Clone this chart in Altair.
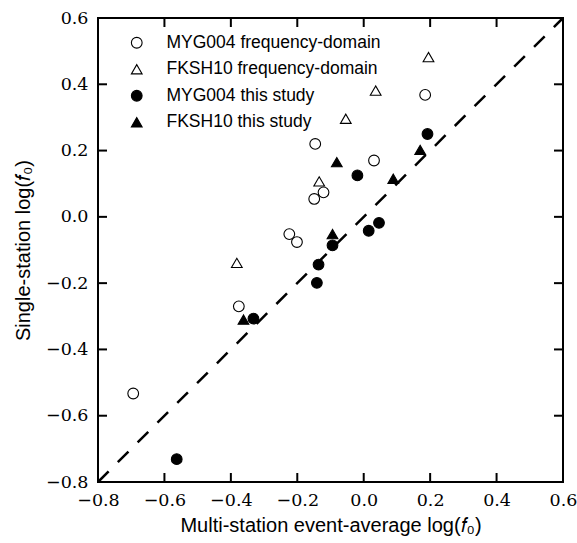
import altair as alt
import pandas as pd

# ---- data ----
series_names = ["MYG004 frequency-domain", "FKSH10 frequency-domain",
                "MYG004 this study", "FKSH10 this study"]

mf_x = [-0.694, -0.376, -0.146, 0.031, 0.185, -0.121, -0.149, -0.224, -0.201]
mf_y = [-0.533, -0.270, 0.220, 0.170, 0.368, 0.074, 0.054, -0.052, -0.076]

ff_x = [0.195, 0.036, -0.054, -0.134, -0.382]
ff_y = [0.482, 0.381, 0.296, 0.107, -0.139]

ms_x = [0.192, -0.019, 0.046, 0.015, -0.094, -0.136, -0.141, -0.332, -0.563]
ms_y = [0.250, 0.125, -0.018, -0.042, -0.086, -0.144, -0.199, -0.307, -0.731]

fs_x = [-0.081, 0.089, 0.170, -0.094, -0.362]
fs_y = [0.165, 0.115, 0.202, -0.052, -0.310]

line_x = [-0.8, 0.6]
line_y = [-0.8, 0.6]

tick_vals = [-0.8, -0.6, -0.4, -0.2, 0.0, 0.2, 0.4, 0.6]

W, H = 465, 464
TICK = 9

rows = []
for name, xs, ys in [(series_names[0], mf_x, mf_y), (series_names[1], ff_x, ff_y),
                     (series_names[2], ms_x, ms_y), (series_names[3], fs_x, fs_y)]:
    for a, b in zip(xs, ys):
        rows.append({"series": name, "x": a, "y": b, "order": series_names.index(name)})
df = pd.DataFrame(rows)
line_df = pd.DataFrame({"x": line_x, "y": line_y})
tick_df = pd.DataFrame({"v": tick_vals})

xscale = alt.Scale(domain=[-0.8, 0.6], nice=False, zero=False)
yscale = alt.Scale(domain=[-0.8, 0.6], nice=False, zero=False)

xaxis = alt.Axis(values=tick_vals, format=".1f", tickSize=0, grid=False, domain=False,
                 labelFont="DejaVu Serif", labelFontSize=17.5, labelPadding=9,
                 labelColor="black", labelFlush=False, labelOverlap=False,
                 title="Multi-station event-average log(𝑓₀)", titleFont="Liberation Sans",
                 titleFontSize=20, titleFontWeight="normal", titlePadding=7, titleColor="black")
yaxis = alt.Axis(values=tick_vals, format=".1f", tickSize=0, grid=False, domain=False,
                 labelFont="DejaVu Serif", labelFontSize=17.5, labelPadding=10,
                 labelColor="black", labelFlush=False, labelOverlap=False,
                 title="Single-station log(𝑓₀)", titleFont="Liberation Sans",
                 titleFontSize=20, titleFontWeight="normal", titlePadding=12, titleColor="black")

diag = alt.Chart(line_df).mark_line(color="black", strokeWidth=2.5, strokeDash=[15, 13]).encode(
    x=alt.X("x:Q", scale=xscale, axis=xaxis),
    y=alt.Y("y:Q", scale=yscale, axis=yaxis),
)

points = alt.Chart(df).mark_point(filled=False, size=115, strokeWidth=1.1, opacity=1).encode(
    x=alt.X("x:Q", scale=xscale),
    y=alt.Y("y:Q", scale=yscale),
    fill=alt.Fill("series:N",
                  scale=alt.Scale(domain=series_names, range=["white", "white", "black", "black"]),
                  legend=alt.Legend(title=None, orient="none", legendX=30, legendY=16,
                                    labelFont="Liberation Sans", labelFontSize=17.5,
                                    labelColor="black", labelOffset=21, labelLimit=0,
                                    symbolSize=115, symbolStrokeColor="black",
                                    symbolStrokeWidth=1.1, rowPadding=7.5, padding=0,
                                    symbolOpacity=1)),
    shape=alt.Shape("series:N",
                    scale=alt.Scale(domain=series_names,
                                    range=["circle", "triangle-up", "circle", "triangle-up"])),
    stroke=alt.value("black"),
    fillOpacity=alt.value(1),
    order=alt.Order("order:Q"),
)

bottom_ticks = alt.Chart(tick_df).mark_rule(color="black", strokeWidth=2).encode(
    x=alt.X("v:Q", scale=xscale), y=alt.value(H), y2=alt.value(H - TICK))
top_ticks = alt.Chart(tick_df).mark_rule(color="black", strokeWidth=2).encode(
    x=alt.X("v:Q", scale=xscale), y=alt.value(0), y2=alt.value(TICK))
left_ticks = alt.Chart(tick_df).mark_rule(color="black", strokeWidth=2).encode(
    y=alt.Y("v:Q", scale=yscale), x=alt.value(0), x2=alt.value(TICK))
right_ticks = alt.Chart(tick_df).mark_rule(color="black", strokeWidth=2).encode(
    y=alt.Y("v:Q", scale=yscale), x=alt.value(W), x2=alt.value(W - TICK))

chart = alt.layer(diag, points, bottom_ticks, top_ticks, left_ticks, right_ticks).properties(
    width=W, height=H,
    autosize=alt.AutoSizeParams(type="none"),
    padding={"left": 98, "top": 18, "right": 14, "bottom": 61},
    background="white",
).configure_view(stroke="black", strokeWidth=2)

chart.save("out.html", embed_options={"renderer": "svg", "actions": False})
